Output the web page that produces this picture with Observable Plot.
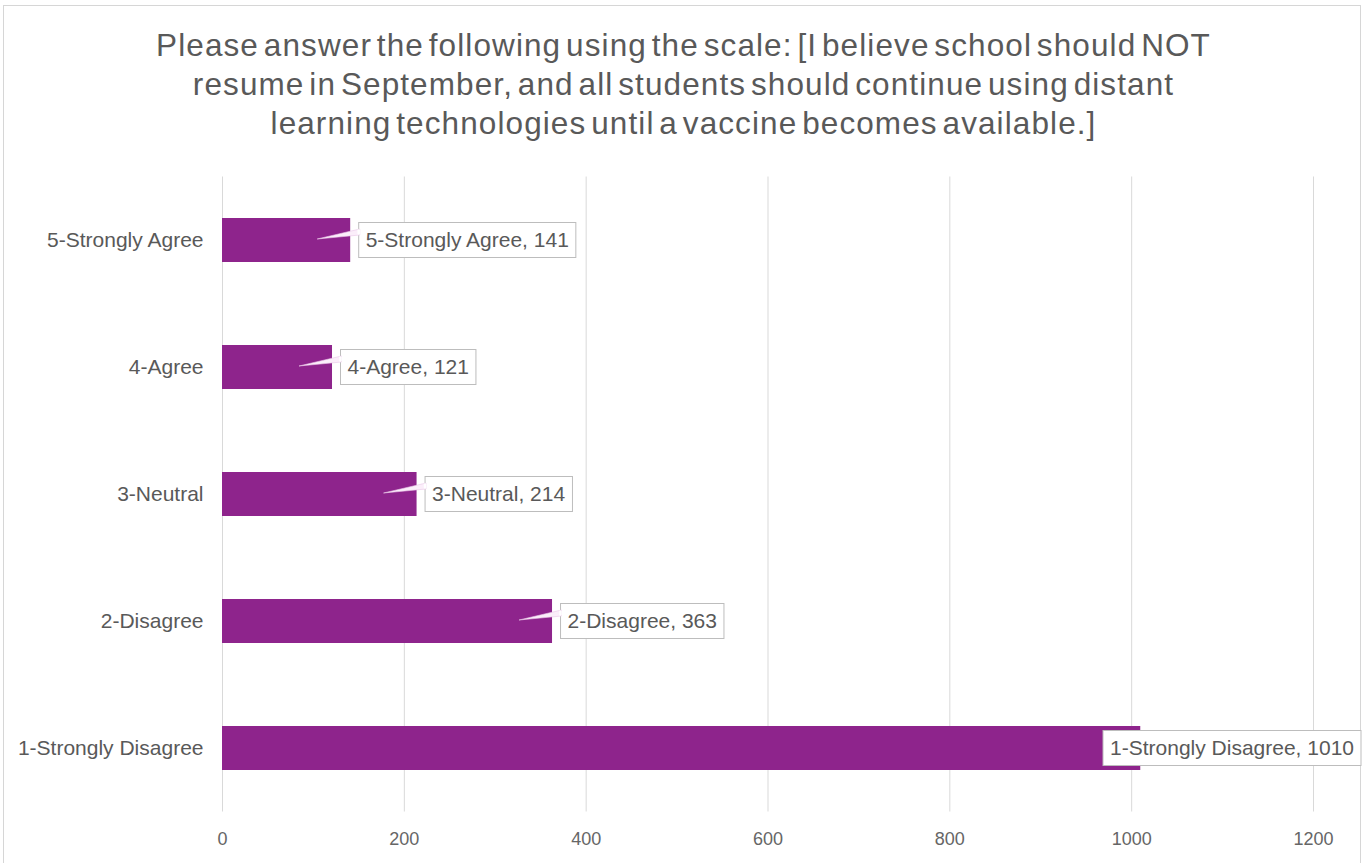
<!DOCTYPE html>
<html>
<head>
<meta charset="utf-8">
<script src="https://cdn.jsdelivr.net/npm/d3@7"></script>
<script src="https://cdn.jsdelivr.net/npm/@observablehq/plot@0.6"></script>
<style>
  html, body { margin: 0; padding: 0; background: #fff; }
  body { width: 1367px; height: 863px; position: relative; overflow: hidden; font-family: "Liberation Sans", Arial, sans-serif; }
  #frame { position: absolute; left: 3px; top: 5px; width: 1358px; height: 900px; border: 1px solid #d6d6d6; box-sizing: border-box; }
  #title { position: absolute; left: 0; width: 1367px; top: 26px; text-align: center; font-size: 31.5px; line-height: 39px; color: #595959; letter-spacing: 1.1px; word-spacing: -5px; white-space: nowrap; }
  #chart { position: absolute; left: 0; top: 165px; }
</style>
</head>
<body>
<div id="frame"></div>
<div id="title">Please answer the following using the scale: [I believe school should NOT<br>resume in September, and all students should continue using distant<br>learning technologies until a vaccine becomes available.]</div>
<div id="chart"></div>
<script>
const categories = ["5-Strongly Agree", "4-Agree", "3-Neutral", "2-Disagree", "1-Strongly Disagree"];
const counts = [141, 121, 214, 363, 1010];
const xTicks = [0, 200, 400, 600, 800, 1000, 1200];

const data = categories.map((c, i) => ({category: c, count: counts[i]}));

const W = 1367, H = 698;
const barColor = "#8e248c";
const textColor = "#595959";

const plot = Plot.plot({
  width: W,
  height: H,
  marginLeft: 222,
  marginRight: 54,
  marginTop: 11.5,
  marginBottom: 51.5,
  style: {fontFamily: "'Liberation Sans', Arial, sans-serif", fontSize: "18px", color: "#666", background: "transparent"},
  x: {domain: [0, 1200], ticks: xTicks, label: null},
  y: {domain: categories, paddingInner: 0.65, paddingOuter: 0.325, label: null},
  marks: [
    Plot.ruleX(xTicks, {stroke: "#d9d9d9", strokeWidth: 1}),
    Plot.axisX({ticks: xTicks, tickSize: 0, tickPadding: 20, fontSize: 18, fill: "#666", label: null, tickFormat: d => String(d)}),
    Plot.axisY({tickSize: 0, tickPadding: 19, fontSize: 21, fill: textColor, label: null}),
    Plot.barX(data, {x: "count", y: "category", fill: barColor}),
    Plot.text(data, {x: "count", y: "category", text: d => `${d.category}, ${d.count}`, textAnchor: "start", dx: 15, fontSize: 21, fill: textColor})
  ]
});

document.getElementById("chart").appendChild(plot);

// callout boxes & pointers around the data labels
const svg = plot.tagName.toLowerCase() === "svg" ? plot : plot.querySelector("svg");
const xs = plot.scale("x");
const ys = plot.scale("y");
const svgRect = svg.getBoundingClientRect();
const textGroups = svg.querySelectorAll('g[aria-label="text"]');
const labelGroup = textGroups[textGroups.length - 1];
const labels = labelGroup.querySelectorAll("text");
const calloutG = document.createElementNS("http://www.w3.org/2000/svg", "g");
labelGroup.parentNode.insertBefore(calloutG, labelGroup);
const maxRight = 1361;
labels.forEach((t, i) => {
  let r = t.getBoundingClientRect();
  let left = r.left - svgRect.left - 7;
  let right = r.right - svgRect.left + 7;
  if (right > maxRight) {
    const delta = right - maxRight;
    const prev = t.getAttribute("transform") || "";
    t.setAttribute("transform", `translate(${-delta},0) ${prev}`);
    left -= delta; right -= delta;
  }
  const cy = ys.apply(data[i].category) + ys.bandwidth / 2;
  const top = cy - 17.5, h = 35;
  const barEnd = xs.apply(data[i].count);
  const rect = document.createElementNS("http://www.w3.org/2000/svg", "rect");
  rect.setAttribute("x", left); rect.setAttribute("y", top);
  rect.setAttribute("width", right - left); rect.setAttribute("height", h);
  rect.setAttribute("fill", "#fff"); rect.setAttribute("stroke", "#bdbdbd"); rect.setAttribute("stroke-width", 1);
  calloutG.appendChild(rect);
  if (left > barEnd) {
    const poly = document.createElementNS("http://www.w3.org/2000/svg", "polygon");
    poly.setAttribute("points", `${left + 1},${cy - 11} ${left + 1},${cy - 5} ${barEnd - 33},${cy - 1}`);
    poly.setAttribute("fill", "#fbeefa");
    poly.setAttribute("stroke", "#e9c6e8");
    poly.setAttribute("stroke-width", 0.6);
    calloutG.appendChild(poly);
    const cover = document.createElementNS("http://www.w3.org/2000/svg", "line");
    cover.setAttribute("x1", left); cover.setAttribute("x2", left);
    cover.setAttribute("y1", cy - 10.5); cover.setAttribute("y2", cy - 5.5);
    cover.setAttribute("stroke", "#fff"); cover.setAttribute("stroke-width", 2.5);
    calloutG.appendChild(cover);
  }
});
</script>
</body>
</html>
